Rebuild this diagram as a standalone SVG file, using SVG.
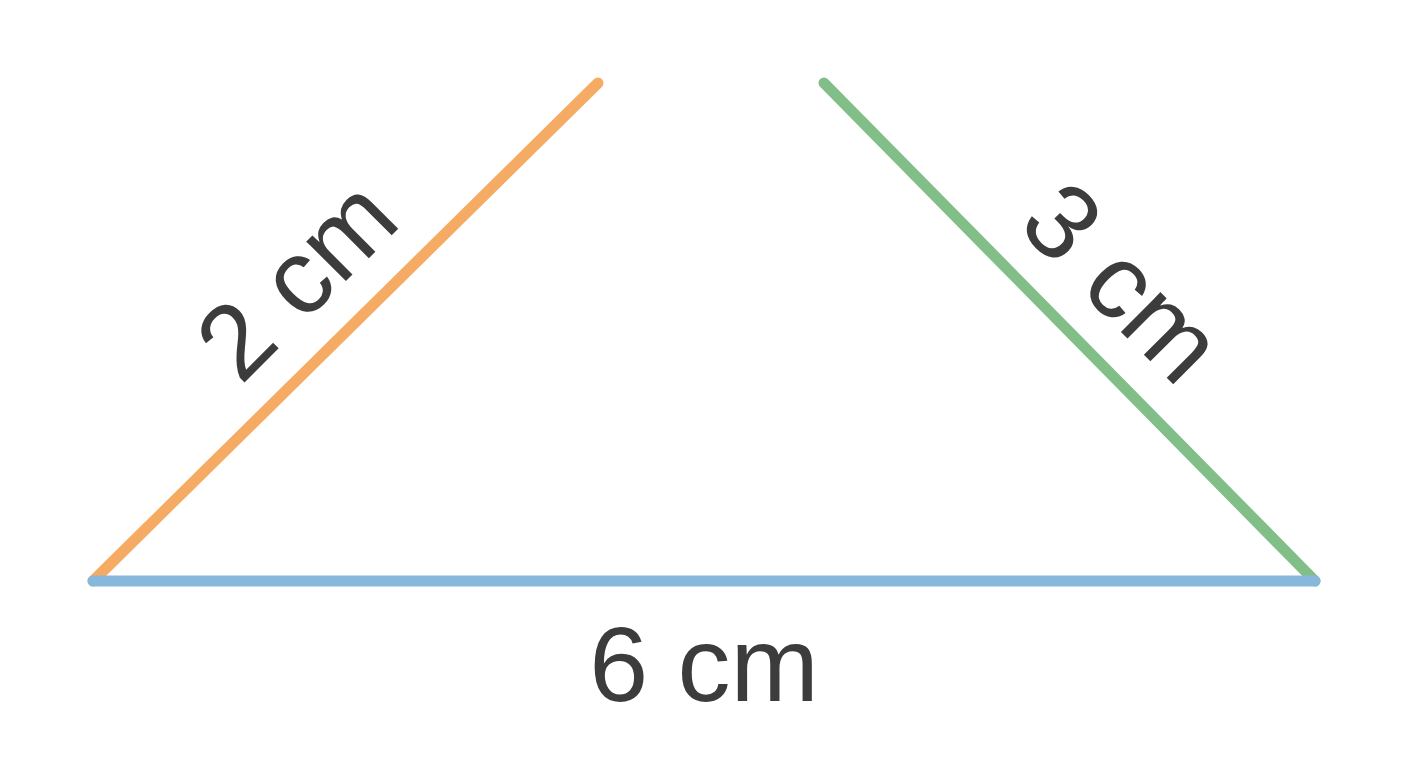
<svg xmlns="http://www.w3.org/2000/svg" width="1408" height="768" viewBox="0 0 1408 768">
<style>
.edge{fill:none;stroke-width:11;stroke-linecap:round}
.lbl{font-family:"Liberation Sans",Arial,sans-serif;font-size:106px;fill:#3c3c3c;text-anchor:middle}
</style>
<rect width="1408" height="768" fill="#ffffff"/>
<g id="connectors">
<line id="side-a" class="edge" x1="93" y1="581" x2="598" y2="83" stroke="#F5AB63"/>
<line id="side-b" class="edge" x1="824" y1="83" x2="1315" y2="581" stroke="#82BE87"/>
<line id="side-c" class="edge" x1="93" y1="581" x2="1315" y2="581" stroke="#88B7DC"/>
</g>
<g id="label-2cm"><text class="lbl" transform="translate(322,305) rotate(-45)">2 cm</text></g>
<g id="label-3cm"><text class="lbl" transform="translate(1097,308) rotate(45)">3 cm</text></g>
<g id="label-6cm"><text class="lbl" x="704" y="701">6 cm</text></g>
</svg>
